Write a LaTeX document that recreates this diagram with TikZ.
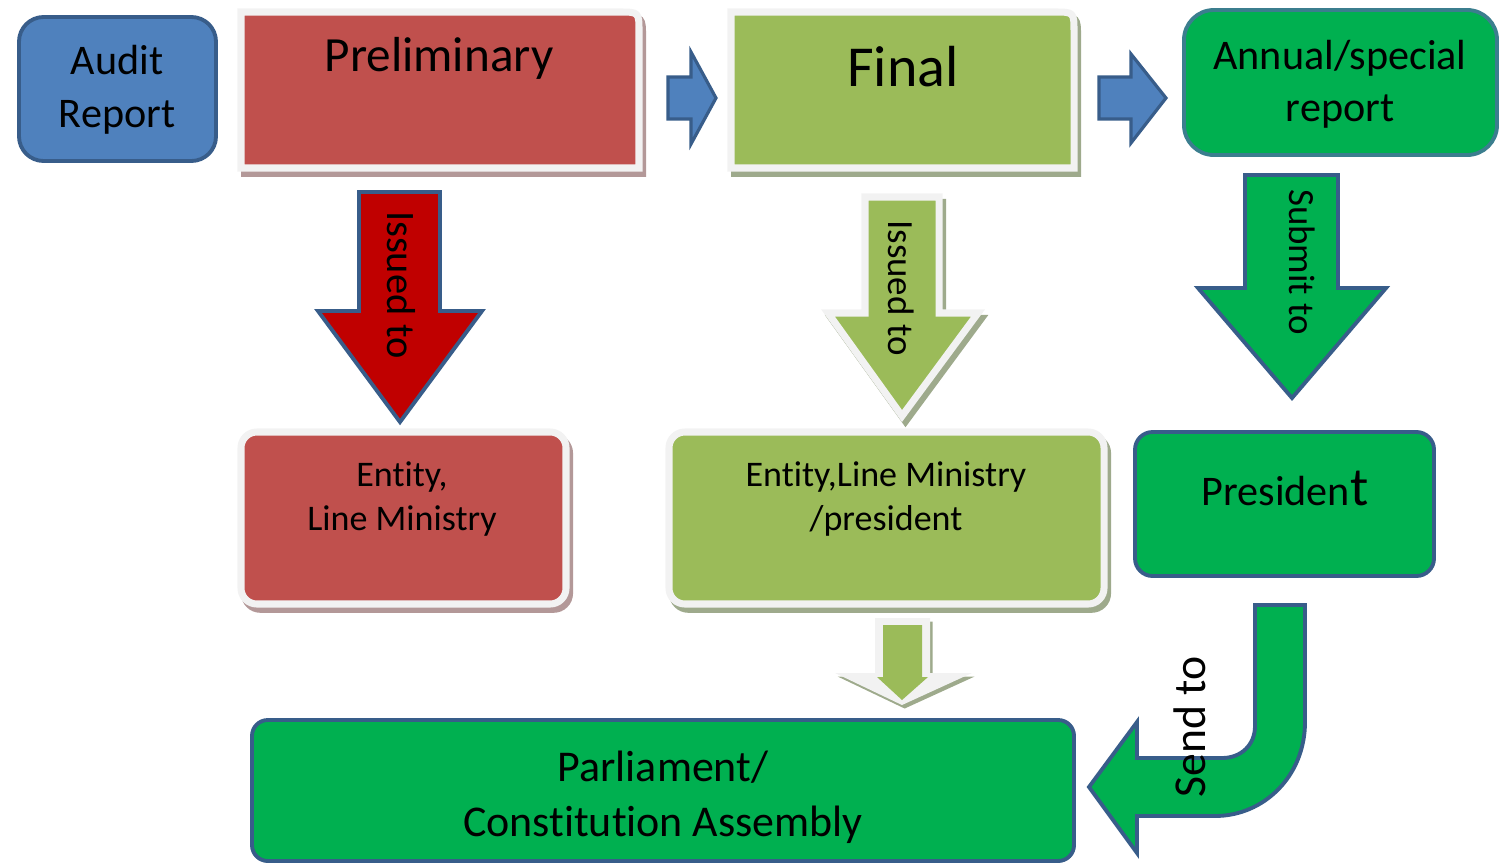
\documentclass[tikz,border=0pt]{standalone}
\usepackage{fontspec}
\setmainfont{Carlito}[Ligatures=NoCommon]
\usepackage{tikz}
\usetikzlibrary{positioning,calc}
\definecolor{auditblue}{HTML}{4F81BD}
\definecolor{edgeblue}{HTML}{385D8A}
\definecolor{edgeteal}{HTML}{3B7E8E}
\definecolor{brick}{HTML}{C0504D}
\definecolor{darkred}{HTML}{C00000}
\definecolor{olive}{HTML}{9BBB59}
\definecolor{grass}{HTML}{00B050}
\definecolor{softgray}{HTML}{F2F2F2}
\definecolor{redshade}{HTML}{B39898}
\definecolor{oliveshade}{HTML}{9EAA8C}

\begin{document}
\begin{tikzpicture}[
  x=0.02cm,
  y=-0.02cm,
  hard/.style={
    draw=edgeblue,
    line width=2.2pt,
  },
  soft/.style={
    draw=softgray,
    line width=4pt,
  },
  redshadow/.style={
    preaction={
      fill=redshade,
      draw=redshade,
      line width=4pt,
      transform canvas={shift={(2pt,-3pt)}},
    },
  },
  oliveshadow/.style={
    preaction={
      fill=oliveshade,
      draw=oliveshade,
      line width=4pt,
      transform canvas={shift={(2pt,-3pt)}},
    },
  },
  txt/.style={
    align=center,
    inner sep=0pt,
  }]
  \useasboundingbox (0,0) rectangle (1500,866);

  % top row
  \draw[hard, fill=auditblue, rounded corners=14pt] (19,17) rectangle (216,161);
  \draw[soft, redshadow, fill=brick] (241,168) -- (241,12) -- (619,12)
    .. controls (639,12) .. (639,32) -- (639,168) -- cycle;
  \draw[soft, oliveshadow, fill=olive] (731,168) -- (731,12) -- (1054,12)
    .. controls (1074,12) .. (1074,32) -- (1074,168) -- cycle;
  \draw[draw=edgeteal, line width=2.2pt, fill=grass, rounded corners=17pt] (1184,10) rectangle (1497,155);
  \draw[draw=edgeblue, line width=1.8pt, fill=auditblue] (668,77) -- (691,77) -- (691,52)
    -- (716,98) -- (691,144) -- (691,119) -- (668,119) -- cycle;
  \draw[draw=edgeblue, line width=1.8pt, fill=auditblue] (1099,77) -- (1131,77) -- (1131,54)
    -- (1166,98) -- (1131,143) -- (1131,119) -- (1099,119) -- cycle;

  % down arrows
  \draw[hard, fill=darkred] (359,192) -- (440,192) -- (440,311) -- (482,311)
    -- (400,422) -- (318,311) -- (359,311) -- cycle;
  \draw[soft, oliveshadow, fill=olive] (865,197) -- (939,197) -- (939,313) -- (978,313)
    -- (902,416) -- (828,313) -- (865,313) -- cycle;
  \draw[hard, fill=grass] (1245,175) -- (1338,175) -- (1338,288) -- (1386,288)
    -- (1292,398) -- (1198,288) -- (1245,288) -- cycle;

  % middle row
  \draw[soft, redshadow, fill=brick, rounded corners=9pt] (241,432) rectangle (566,604);
  \draw[soft, oliveshadow, fill=olive, rounded corners=9pt] (669,432) rectangle (1104,604);
  \draw[hard, fill=grass, rounded corners=10pt] (1135,432) rectangle (1434,576);

  % bottom row
  \fill[preaction={fill=oliveshade, transform canvas={shift={(1.5pt,-2pt)}}}, fill=softgray]
    (875,618) -- (930,618) -- (930,673) -- (972,673)
    -- (902,705) -- (835,673) -- (875,673) -- cycle;
  \fill[olive] (883,625) -- (922,625) -- (922,677) -- (928,677)
    -- (902,700) -- (877,677) -- (883,677) -- cycle;
  \draw[hard, fill=grass, rounded corners=9pt] (252,720) rectangle (1074,861);
  \draw[hard, fill=grass] (1255,605) -- (1305,605) -- (1305,722)
    .. controls (1305,776) and (1264,816) .. (1215,816) -- (1137,816) -- (1137,853)
    -- (1089,787) -- (1137,722) -- (1137,758) -- (1222,758)
    .. controls (1241,758) and (1255,745) .. (1255,726) -- cycle;

  % texts
  \node[txt, font=\fontsize{24}{30}\selectfont] (audit) at (117,90) {Audit\\Report};
  \node[txt, font=\fontsize{28}{34}\selectfont] (prelim) at (439,58) {Preliminary};
  \node[txt, font=\fontsize{33}{40}\selectfont] (final) at (903,67) {Final};
  \node[txt, font=\fontsize{24}{29.5}\selectfont] (annual) at (1340,84) {Annual/special\\report};
  \node[txt, rotate=-90, font=\fontsize{23}{28}\selectfont] (issuedred) at (401,285) {Issued to};
  \node[txt, rotate=-90, font=\fontsize{21}{26}\selectfont] (issuedolive) at (901,288) {Issued to};
  \node[txt, rotate=-90, font=\fontsize{21}{26}\selectfont] (submit) at (1302,262) {Submit to};
  \node[txt, font=\fontsize{20.5}{25.5}\selectfont] (entityred) at (402,499) {Entity,\\Line Ministry};
  \node[txt, font=\fontsize{20.5}{25.5}\selectfont] (entityolive) at (886,499) {Entity,Line Ministry\\/president};
  \node[txt, font=\fontsize{24}{29}\selectfont] (president) at (1285,488) {Presiden{\fontsize{31}{31}\selectfont t}};
  \node[txt, font=\fontsize{25}{31.5}\selectfont] (parliament) at (663,797) {Parliament/\\Constitution Assembly};
  \node[txt, rotate=90, font=\fontsize{26}{31}\selectfont] (sendto) at (1190,727) {Send to};
\end{tikzpicture}
\end{document}
